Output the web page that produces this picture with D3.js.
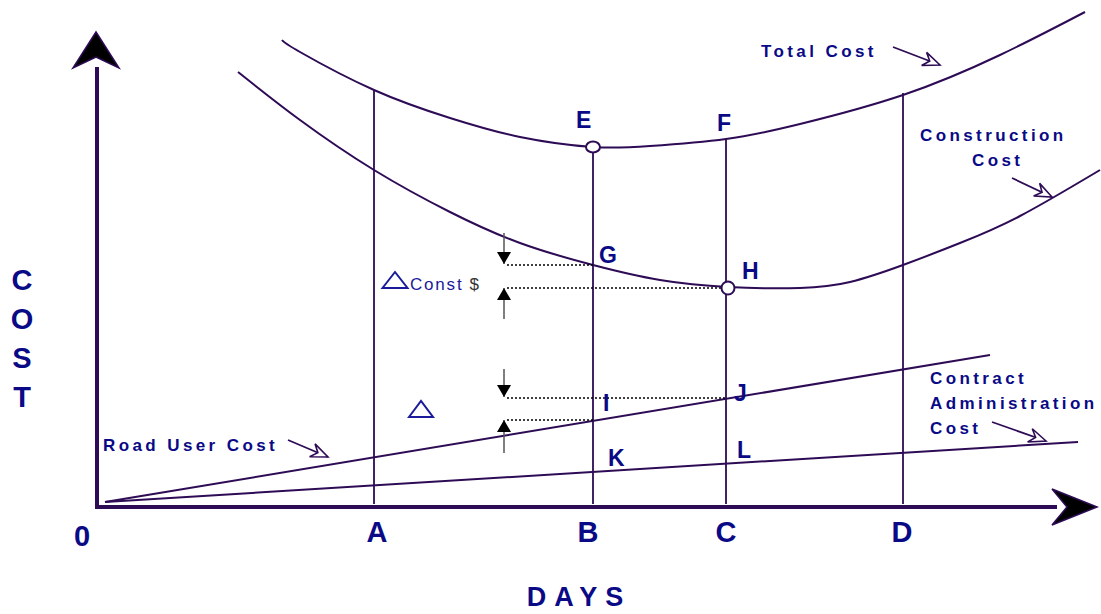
<!DOCTYPE html>
<html><head><meta charset="utf-8">
<script src="https://cdn.jsdelivr.net/npm/d3@7"></script>
<style>body{margin:0;background:#fff}svg{display:block}</style>
</head><body>
<svg id="c" width="1101" height="614"></svg>
<script>
// ---- data (arbitrary day / cost units) ----
const totalCost = [[185,467],[203,455],[277,417],[353,389],[423,370],[496,360],[553,361],[629,368],[703,383],[806,412],[903,452],[988,495]];
const constructionCost = [[141,435],[203,387],[277,337],[353,295],[423,264],[496,242],[563,227],[631,220],[703,219],[753,225],[806,242],[863,264],[923,291],[1003,337]];
const roadUserCost = [[8,5],[893,152]];
const contractAdminCost = [[8,5],[981,65]];
const dayMarks = ["A","B","C","D"];
const dayValues = [277,496,629,806];
const dayTops = [417,360,368,414];
const pointLabels = ["E","F","G","H","I","J","K","L"];
const pointValues = [[479,379],[620,376],[502,244],[645,228],[506,96],[637,106],[511,41],[640,49]];
const levelValues = [242,219,109,87];      // G, H, J, I cost levels
const levelEnds = [496,625,629,496];

const NAVY = "#0a0a86", LINE = "#2d0b55";
const svg = d3.select("#c");
const x = d3.scaleLinear().domain([0,1000]).range([97,1097]);
const y = d3.scaleLinear().domain([0,500]).range([507,7]);

const defs = svg.append("defs");
defs.append("marker").attr("id","open").attr("markerUnits","userSpaceOnUse")
  .attr("viewBox","-18 -9 20 18").attr("refX",0).attr("refY",0)
  .attr("markerWidth",20).attr("markerHeight",18).attr("orient","auto")
  .append("path").attr("d","M0,0 L-17,-7 L-11,0 L-17,7 Z")
  .attr("fill","#fff").attr("stroke",LINE).attr("stroke-width",1.6);
defs.append("marker").attr("id","solid").attr("markerUnits","userSpaceOnUse")
  .attr("viewBox","-13 -8 14 16").attr("refX",0).attr("refY",0)
  .attr("markerWidth",14).attr("markerHeight",16).attr("orient","auto")
  .append("path").attr("d","M0,0 L-12,-7 L-12,7 Z").attr("fill","#000");

const curve = d3.line().x(d=>x(d[0])).y(d=>y(d[1])).curve(d3.curveNatural);
const straight = d3.line().x(d=>x(d[0])).y(d=>y(d[1]));

// vertical day lines
svg.selectAll(".vl").data(dayValues).join("line")
  .attr("x1",d=>x(d)).attr("x2",d=>x(d))
  .attr("y1",(d,i)=>y(dayTops[i])).attr("y2",y(3))
  .attr("stroke",LINE).attr("stroke-width",1.8);

// cost curves
[totalCost, constructionCost].forEach(c=>svg.append("path").attr("d",curve(c))
  .attr("fill","none").attr("stroke",LINE).attr("stroke-width",2));
[roadUserCost, contractAdminCost].forEach(c=>svg.append("path").attr("d",straight(c))
  .attr("fill","none").attr("stroke",LINE).attr("stroke-width",2));

// dotted level lines
svg.selectAll(".dl").data(levelValues).join("line")
  .attr("x1",x(410)).attr("x2",(d,i)=>x(levelEnds[i]))
  .attr("y1",d=>y(d)).attr("y2",d=>y(d))
  .attr("stroke","#000").attr("stroke-width",1.3).attr("stroke-dasharray","2,2");

// black difference arrows
const arrX = 407;
const arrows = [[274,243],[188,219],[138,110],[54,87]];
arrows.forEach(a=>svg.append("line").attr("x1",x(arrX)).attr("x2",x(arrX))
  .attr("y1",y(a[0])).attr("y2",y(a[1])).attr("stroke","#555").attr("stroke-width",1.5)
  .attr("marker-end","url(#solid)"));

// minimum point circles
svg.append("ellipse").attr("cx",x(496)).attr("cy",y(360)).attr("rx",7).attr("ry",5.5)
  .attr("fill","#fff").attr("stroke",LINE).attr("stroke-width",2);
svg.append("circle").attr("cx",x(631)).attr("cy",y(219)).attr("r",6.5)
  .attr("fill","#fff").attr("stroke",LINE).attr("stroke-width",2);

// axes
svg.append("line").attr("x1",x(0)).attr("x2",x(0)).attr("y1",y(-2)).attr("y2",y(440))
  .attr("stroke",LINE).attr("stroke-width",4);
svg.append("line").attr("x1",x(-2)).attr("x2",x(960)).attr("y1",y(0)).attr("y2",y(0))
  .attr("stroke",LINE).attr("stroke-width",4);
svg.append("path").attr("d",`M${x(-1)},${y(475)} L${x(-24)},${y(439)} L${x(-1)},${y(450)} L${x(22)},${y(439)} Z`)
  .attr("fill","#000").attr("stroke",LINE).attr("stroke-width",1.5);
svg.append("path").attr("d",`M${x(1000)},${y(0)} L${x(955)},${y(18)} L${x(970)},${y(0)} L${x(955)},${y(-18)} Z`)
  .attr("fill","#000").attr("stroke",LINE).attr("stroke-width",1.5);

// axis tick letters
const axFont = "'Liberation Sans', Arial, sans-serif";
svg.selectAll(".dm").data(dayMarks).join("text")
  .attr("x",(d,i)=>x(dayValues[i])+ [3,-5,0,-1][i]).attr("y",542)
  .attr("text-anchor","middle").attr("font-family",axFont).attr("font-weight","bold")
  .attr("font-size",29).attr("fill",NAVY).text(d=>d);
svg.append("text").attr("x",x(-15)).attr("y",546).attr("text-anchor","middle")
  .attr("font-family",axFont).attr("font-weight","bold").attr("font-size",29).attr("fill",NAVY).text("0");
svg.append("text").attr("x",x(482)).attr("y",606).attr("text-anchor","middle")
  .attr("font-family",axFont).attr("font-weight","bold").attr("font-size",27)
  .attr("letter-spacing",8).attr("fill",NAVY).text("DAYS");
const costLetters = ["C","O","S","T"];
svg.selectAll(".cl").data(costLetters).join("text")
  .attr("x",22).attr("y",(d,i)=>[290,329,368,407][i]).attr("text-anchor","middle")
  .attr("font-family",axFont).attr("font-weight","bold").attr("font-size",29)
  .attr("fill",NAVY).text(d=>d);

// point labels
svg.selectAll(".pl").data(pointLabels).join("text")
  .attr("x",(d,i)=>x(pointValues[i][0])).attr("y",(d,i)=>y(pointValues[i][1]))
  .attr("font-family",axFont).attr("font-weight","bold").attr("font-size",23)
  .attr("fill",NAVY).text(d=>d);

// series labels
function label(lines, xs, ys){
  const t = svg.append("text").attr("font-family",axFont).attr("font-weight","bold")
    .attr("font-size",17).attr("letter-spacing",3.4).attr("fill",NAVY);
  lines.forEach((l,i)=>t.append("tspan").attr("x",xs[i]).attr("y",ys[i]).text(l));
}
label(["Total Cost"],[761],[57]);
label(["Construction","Cost"],[920,972],[141,166]);
label(["Contract","Administration","Cost"],[930,930,930],[384,409,434]);
label(["Road User Cost"],[103],[451]);

// label pointer arrows
const pointers = [[[796,460],[843,442]],[[915,329],[955,310]],[[895,85],[949,66]],[[191,67],[231,50]]];
pointers.forEach(p=>svg.append("path").attr("d",straight(p)).attr("stroke",LINE)
  .attr("stroke-width",1.8).attr("fill","none").attr("marker-end","url(#open)"));

// delta symbols and Const $
const tri = (cx, base, w, h) => `M${x(cx)-w/2},${y(base)} L${x(cx)},${y(base)-h} L${x(cx)+w/2},${y(base)} Z`;
svg.append("path").attr("d",tri(298,219,25,16)).attr("fill","none").attr("stroke","#1a1a9a").attr("stroke-width",2);
svg.append("path").attr("d",tri(324,90,24,16)).attr("fill","none").attr("stroke","#1a1a9a").attr("stroke-width",2);
const ct = svg.append("text").attr("x",x(313)).attr("y",y(217)).attr("font-family",axFont)
  .attr("font-size",17).attr("letter-spacing",1.8).attr("fill","#1a1a9a");
ct.append("tspan").text("Const");
ct.append("tspan").attr("dx",6).attr("fill","#333").text("$");
</script>
</body></html>
